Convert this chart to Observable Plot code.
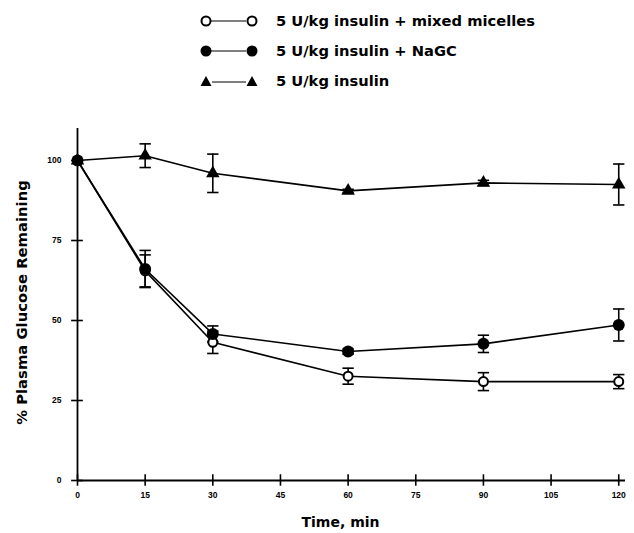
<!DOCTYPE html>
<html>
<head>
<meta charset="utf-8">
<script src="https://cdn.jsdelivr.net/npm/d3@7"></script>
<script src="https://cdn.jsdelivr.net/npm/@observablehq/plot@0.6"></script>
<style>
  body { margin: 0; background: #fff; font-family: "DejaVu Sans", sans-serif; }
  #legend { position: relative; width: 634px; height: 100px; }
  .row { position: absolute; left: 200px; display: flex; align-items: center; font-weight: bold; font-size: 14.7px; color: #000; }
  .row svg { margin-right: 14px; }
</style>
</head>
<body>
<div id="legend"></div>
<div id="chart"></div>
<script>
const times = [0, 15, 30, 60, 90, 120];
const micelles = [100, 65.5, 43.2, 32.6, 30.9, 30.9];
const micellesErr = [0, 5, 3.5, 2.5, 2.8, 2.2];
const nagc = [100, 66.1, 45.8, 40.3, 42.7, 48.6];
const nagcErr = [0, 5.8, 2.5, 0.8, 2.7, 5];
const insulin = [100, 101.5, 96, 90.5, 93, 92.5];
const insulinErr = [0, 3.7, 6, 0.5, 0.8, 6.4];
const seriesNames = ["5 U/kg insulin + mixed micelles", "5 U/kg insulin + NaGC", "5 U/kg insulin"];
const xTicks = [0, 15, 30, 45, 60, 75, 90, 105, 120];
const yTicks = [0, 25, 50, 75, 100];

function rows(vals, errs, name) {
  return times.map((t, i) => ({time: t, value: vals[i], err: errs[i], series: name}));
}
const dM = rows(micelles, micellesErr, seriesNames[0]);
const dN = rows(nagc, nagcErr, seriesNames[1]);
const dI = rows(insulin, insulinErr, seriesNames[2]);
const all = [...dM, ...dN, ...dI];
const withErr = all.filter(d => d.err > 0);

const cap = { draw(ctx, size) { const w = Math.sqrt(size); ctx.moveTo(-w, 0); ctx.lineTo(w, 0); } };

// legend
const legend = document.getElementById("legend");
const legendSyms = [
  `<circle cx="6" cy="8" r="4.5" fill="white" stroke="black" stroke-width="2"/><line x1="11" y1="8" x2="46" y2="8" stroke="black" stroke-width="1.2"/><circle cx="52" cy="8" r="4.5" fill="white" stroke="black" stroke-width="2"/>`,
  `<circle cx="6" cy="8" r="5.5" fill="black"/><line x1="11" y1="8" x2="46" y2="8" stroke="black" stroke-width="1.2"/><circle cx="52" cy="8" r="5.5" fill="black"/>`,
  `<path d="M6,3 L11.5,13 L0.5,13 Z" fill="black"/><line x1="12" y1="9" x2="46" y2="9" stroke="black" stroke-width="1.2"/><path d="M52,3 L57.5,13 L46.5,13 Z" fill="black"/>`
];
seriesNames.forEach((name, i) => {
  const r = document.createElement("div");
  r.className = "row";
  r.style.top = (12 + i * 30) + "px";
  r.innerHTML = `<svg width="62" height="16">${legendSyms[i]}</svg><span>${name}</span>`;
  legend.appendChild(r);
});

const chart = Plot.plot({
  width: 634,
  height: 433,
  marginLeft: 77,
  marginRight: 9,
  marginTop: 28,
  marginBottom: 53,
  style: { fontFamily: "DejaVu Sans, sans-serif", background: "white" },
  x: { domain: [0, 121.5], axis: null },
  y: { domain: [0, 110], axis: null },
  marks: [
    Plot.ruleX([0], { stroke: "black", strokeWidth: 1.8 }),
    Plot.ruleY([0], { stroke: "black", strokeWidth: 1.8 }),
    Plot.ruleY(yTicks, { y: d => d, x1: -1.3, x2: 1.3, stroke: "black", strokeWidth: 1.6 }),
    Plot.ruleX(xTicks, { x: d => d, y1: -1.8, y2: 1.8, stroke: "black", strokeWidth: 1.6 }),
    Plot.text(yTicks, { x: 0, y: d => d, text: d => String(d), dx: -16, textAnchor: "end", fontSize: 8.5, fontWeight: "bold", fontFamily: "Liberation Sans Narrow, Liberation Sans, sans-serif" }),
    Plot.text(xTicks, { x: d => d, y: 0, text: d => String(d), dy: 15, fontSize: 8.5, fontWeight: "bold", fontFamily: "Liberation Sans Narrow, Liberation Sans, sans-serif" }),
    Plot.text(["% Plasma Glucose Remaining"], { frameAnchor: "left", textAnchor: "middle", rotate: -90, dx: -55, dy: -2, fontSize: 14.8, fontWeight: "bold" }),
    Plot.text(["Time, min"], { frameAnchor: "bottom", dy: 46, dx: -11, fontSize: 14, fontWeight: "bold" }),
    Plot.ruleX(withErr, { x: "time", y1: d => d.value - d.err, y2: d => d.value + d.err, stroke: "black", strokeWidth: 1.6 }),
    Plot.dot(withErr, { x: "time", y: d => d.value + d.err, symbol: cap, r: 3.2, stroke: "black", strokeWidth: 1.6 }),
    Plot.dot(withErr, { x: "time", y: d => d.value - d.err, symbol: cap, r: 3.2, stroke: "black", strokeWidth: 1.6 }),
    Plot.line(dI, { x: "time", y: "value", stroke: "black", strokeWidth: 1.6 }),
    Plot.line(dM, { x: "time", y: "value", stroke: "black", strokeWidth: 1.6 }),
    Plot.line(dN, { x: "time", y: "value", stroke: "black", strokeWidth: 1.6 }),
    Plot.dot(dM, { x: "time", y: "value", r: 4.5, fill: "white", stroke: "black", strokeWidth: 2 }),
    Plot.dot(dN, { x: "time", y: "value", r: 6, fill: "black", stroke: "none" }),
    Plot.dot(dI, { x: "time", y: "value", symbol: "triangle", r: 5, fill: "black", stroke: "none" })
  ]
});
document.getElementById("chart").appendChild(chart);
</script>
</body>
</html>
